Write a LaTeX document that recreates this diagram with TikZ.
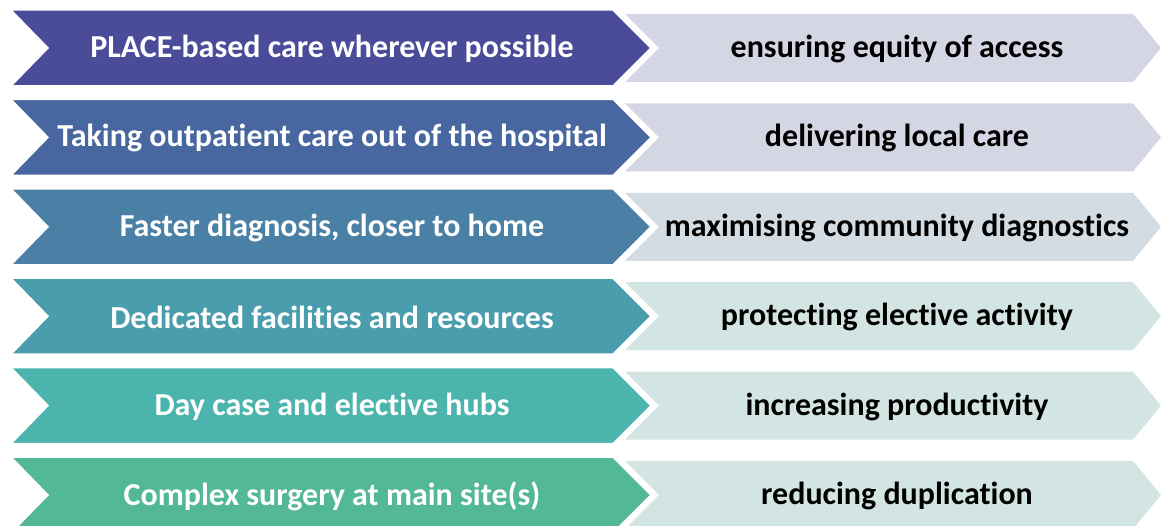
\documentclass[tikz,border=0pt]{standalone}
\usepackage{fontspec}
\setmainfont{Carlito}[Ligatures=NoCommon]
\definecolor{lA}{HTML}{4A4C9A}
\definecolor{lB}{HTML}{4866A0}
\definecolor{lC}{HTML}{4A7FA6}
\definecolor{lD}{HTML}{4A9DAD}
\definecolor{lE}{HTML}{4BB4AD}
\definecolor{lF}{HTML}{52B896}
\definecolor{rA}{HTML}{D5D6E4}
\definecolor{rB}{HTML}{D5D6E4}
\definecolor{rC}{HTML}{D4DCE3}
\definecolor{rD}{HTML}{D3E5E2}
\definecolor{rE}{HTML}{D3E5E2}
\definecolor{rF}{HTML}{D3E5E2}
\tikzset{
  leftchev/.style={draw=white, line width=1.5pt, line join=miter},
  lefttext/.style={text=white, font=\fontsize{32}{36}\selectfont\bfseries, inner sep=0pt},
  righttext/.style={text=black, font=\fontsize{32}{36}\selectfont\bfseries, inner sep=0pt},
}
\begin{document}
\begin{tikzpicture}[x=1pt,y=-1pt]
\useasboundingbox (0,0) rectangle (1161,526);
\begin{scope}
\clip (0,0) rectangle (1161,526);
\foreach \i/\lc/\rc/\lt/\rt in {
  1/lA/rA/{PLACE-based care wherever possible}/{ensuring equity of access},
  2/lB/rB/{Taking outpatient care out of the hospital}/{delivering local care},
  3/lC/rC/{Faster diagnosis, closer to home}/{maximising community diagnostics},
  4/lD/rD/{Dedicated facilities and resources}/{protecting elective activity},
  5/lE/rE/{Day case and elective hubs}/{increasing productivity},
  6/lF/rF/{Complex surgery at main site(s)}/{reducing duplication}} {
  \pgfmathsetmacro{\T}{10+89.4*(\i-1)}
  \pgfmathsetmacro{\C}{\T+38}
  \pgfmathsetmacro{\B}{\T+76}
  \fill[\rc] (625,\T+4) -- (1133,\T+4) -- (1161,\C) -- (1133,\B-4) -- (625,\B-4) -- (659,\C) -- cycle;
  \filldraw[leftchev, fill=\lc] (11,\T) -- (613,\T) -- (651,\C) -- (613,\B) -- (11,\B) -- (48,\C) -- cycle;
  \node[lefttext] (l\i) at (332,\C+1) {\lt};
  \node[righttext] (r\i) at (897,\C+1) {\rt};
}
\end{scope}
\end{tikzpicture}
\end{document}
